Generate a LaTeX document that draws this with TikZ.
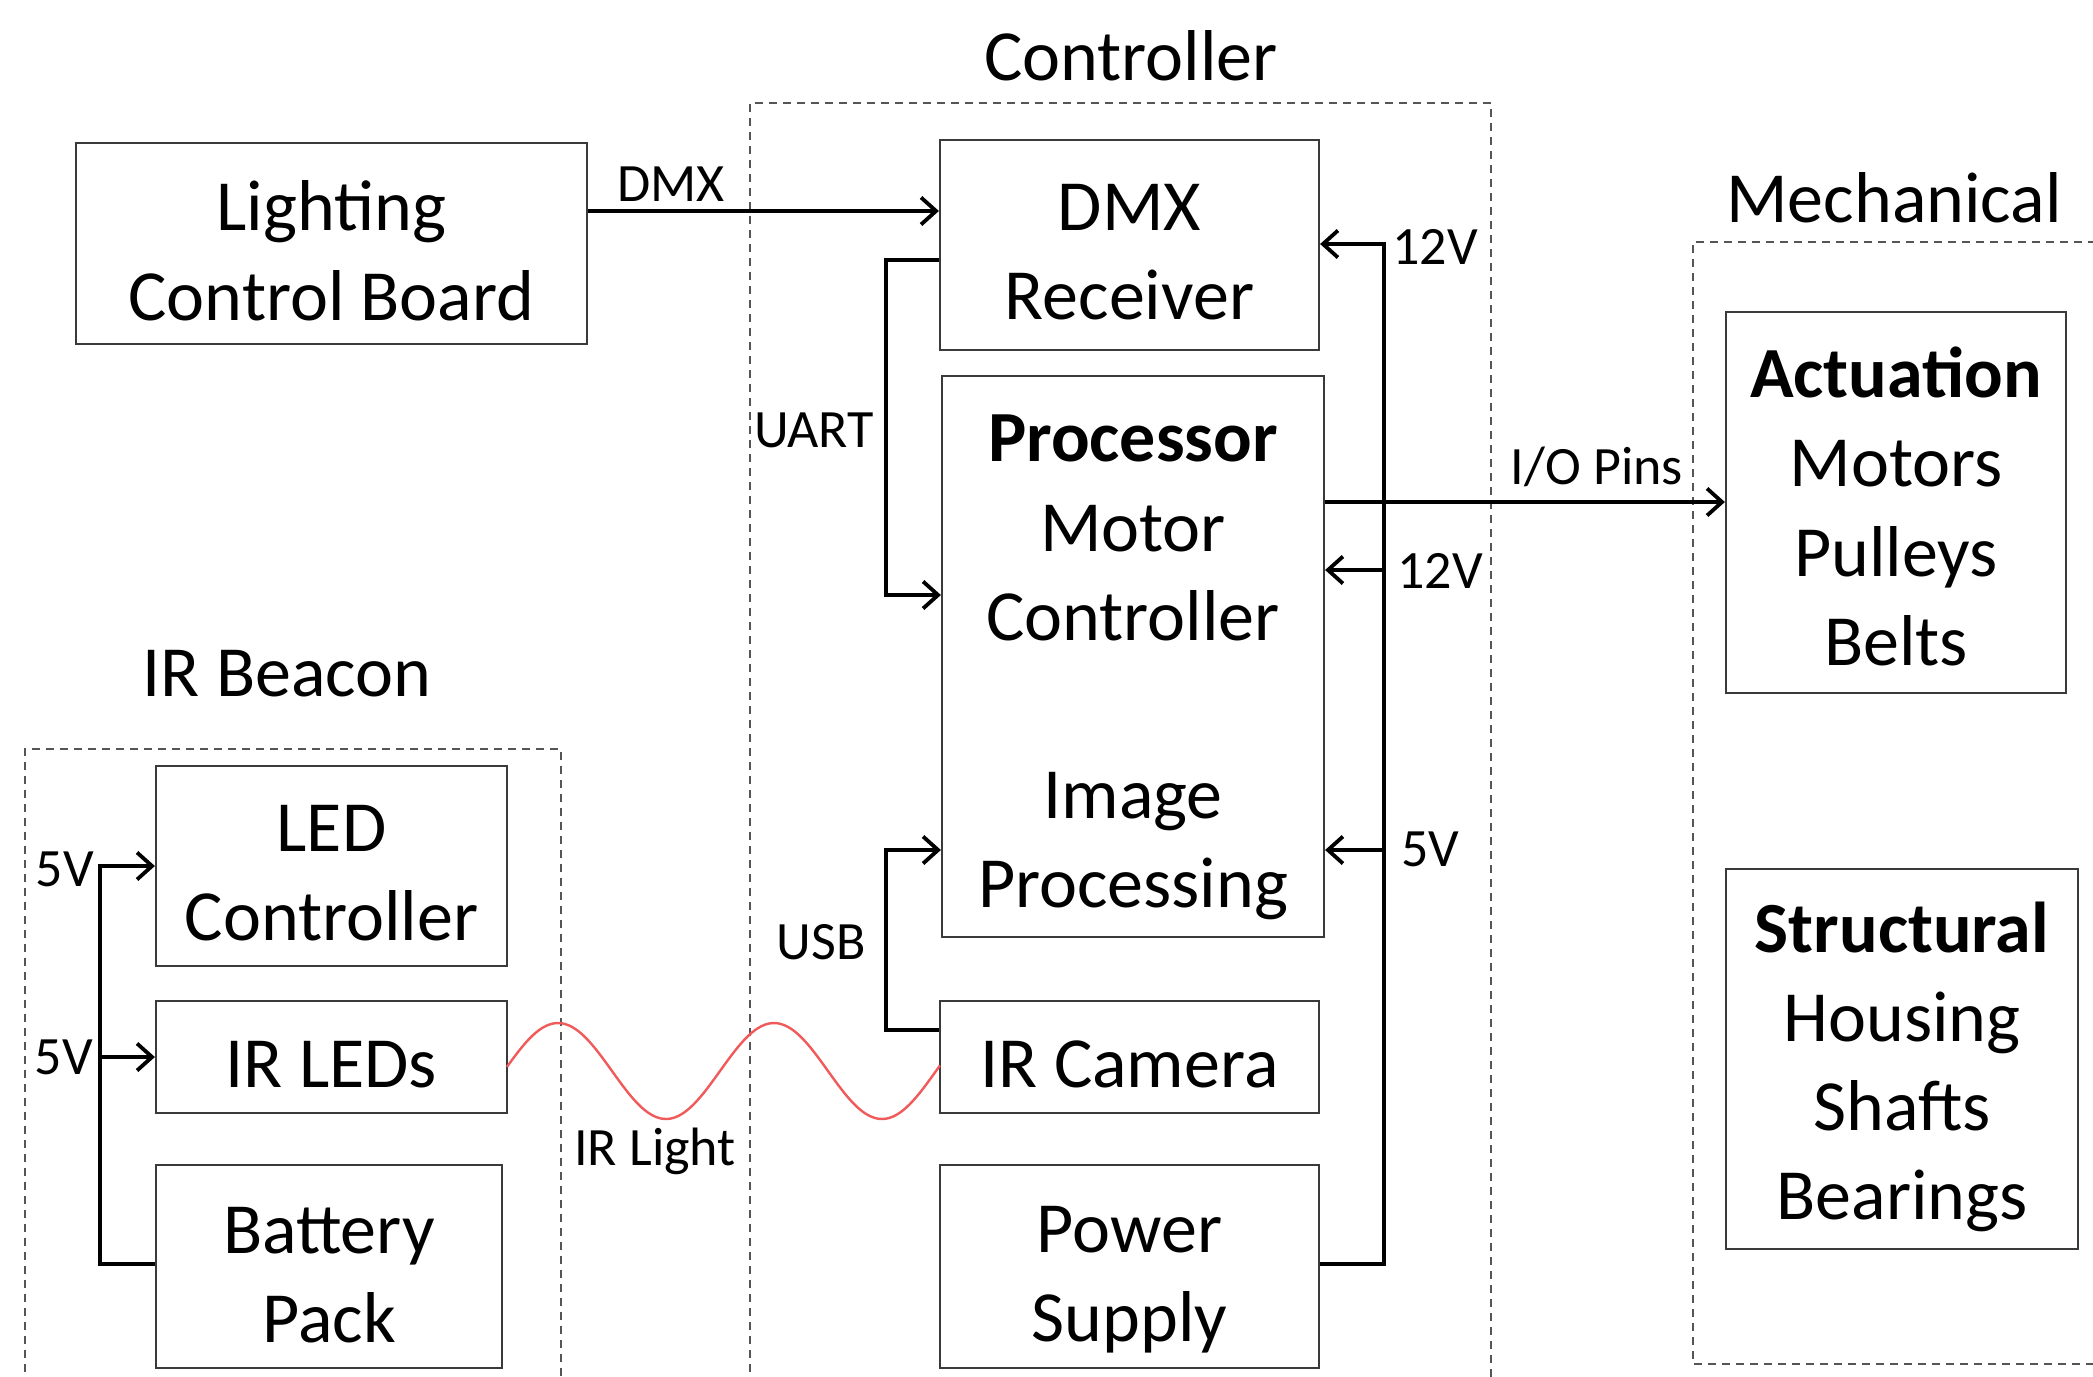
\documentclass[tikz,border=0pt]{standalone}
\usepackage{fontspec}
\setmainfont{Carlito}
\usetikzlibrary{arrows.meta,calc}
\definecolor{boxline}{HTML}{3A3A3A}
\definecolor{grpline}{HTML}{555555}
\definecolor{irred}{HTML}{F05A5A}
\begin{document}
\begin{tikzpicture}[x=0.5pt,y=-0.5pt,
  blk/.style={draw=boxline, line width=1.1pt, inner sep=0pt},
  bt/.style={align=center, inner sep=0pt, font=\fontsize{36}{44.6}\selectfont, yshift=#1},
  bt/.default=-3.6pt,
  lbl/.style={inner sep=0pt, font=\fontsize{27}{32}\selectfont},
  ttl/.style={inner sep=0pt, font=\fontsize{36}{44}\selectfont},
  grp/.style={draw=grpline, line width=1pt, dash pattern=on 4pt off 3pt},
  conn/.style={line width=1.8pt, -{Straight Barb[length=7.5pt,width=13.5pt,line width=1.9pt]}}]
\useasboundingbox (0,0) rectangle (2093,1376);
% group frames
\draw[grp] (750,1400) |- (1491,103) -- (1491,1400);
\draw[grp] (2110,242) -| (1693,1364) -- (2110,1364);
\draw[grp] (25,1400) |- (561,749) -- (561,1400);
% titles
\node[ttl] (tctrl) at (1131,56) {Controller};
\node[ttl] (tmech) at (1894,198) {Mechanical};
\node[ttl] (tbeac) at (287,674) {IR Beacon};
% blocks (sizes in pt = pixels/2)
\node[blk, minimum width=255.5pt, minimum height=100.5pt, label={[bt]center:{Lighting\\Control Board}}] (lcb) at (331.5,243.5) {};
\node[blk, minimum width=189.5pt, minimum height=105pt, label={[bt]center:{DMX\\Receiver}}] (dmxr) at (1129.5,245) {};
\node[blk, minimum width=191pt, minimum height=280.5pt, label={[bt=-5.6pt]center:{\textbf{Processor}\\Motor\\Controller\\[44.6pt]Image\\Processing}}] (proc) at (1133,656.5) {};
\node[blk, minimum width=189.5pt, minimum height=56pt, label={[bt]center:{IR Camera}}] (irc) at (1129.5,1057) {};
\node[blk, minimum width=189.5pt, minimum height=101.5pt, label={[bt=-6.5pt]center:{Power\\Supply}}] (ps) at (1129.5,1266.5) {};
\node[blk, minimum width=170pt, minimum height=190.5pt, label={[bt=-2pt]center:{\textbf{Actuation}\\Motors\\Pulleys\\Belts}}] (act) at (1896,502.5) {};
\node[blk, minimum width=176pt, minimum height=190pt, label={[bt=-4pt]center:{\textbf{Structural}\\Housing\\Shafts\\Bearings}}] (strc) at (1902,1059) {};
\node[blk, minimum width=175.5pt, minimum height=100pt, label={[bt]center:{LED\\Controller}}] (ledc) at (331.5,866) {};
\node[blk, minimum width=175.5pt, minimum height=56pt, label={[bt]center:{IR LEDs}}] (irl) at (331.5,1057) {};
\node[blk, minimum width=173pt, minimum height=101.5pt, label={[bt=-4.5pt]center:{Battery\\Pack}}] (bp) at (329,1266.5) {};
% helper coordinates
\coordinate (ydmx) at (0,211);
\coordinate (yu1) at (0,260);
\coordinate (yu2) at (0,595);
\coordinate (yusb1) at (0,1030);
\coordinate (yusb2) at (0,850);
\coordinate (xl) at (886,0);
\coordinate (xr) at (1384,0);
\coordinate (y12a) at (0,244);
\coordinate (y12b) at (0,570);
\coordinate (y5) at (0,850);
\coordinate (yps) at (0,1264);
\coordinate (yio) at (0,502);
\coordinate (xb) at (100,0);
\coordinate (yb1) at (0,866);
\coordinate (yb2) at (0,1057);
% connectors
\draw[conn] (lcb.east |- ydmx) -- (dmxr.west |- ydmx);
\draw[conn] (dmxr.west |- yu1) -| (xl |- yu2) -- (proc.west |- yu2);
\draw[conn] (irc.west |- yusb1) -| (xl |- yusb2) -- (proc.west |- yusb2);
\draw[conn] (ps.east |- yps) -| (xr |- y12a) -- (dmxr.east |- y12a);
\draw[conn] (xr |- y12b) -- (proc.east |- y12b);
\draw[conn] (xr |- y5) -- (proc.east |- y5);
\draw[conn] (proc.east |- yio) -- (act.west |- yio);
\draw[conn] (bp.west |- yps) -| (xb |- yb1) -- (ledc.west |- yb1);
\draw[conn] (xb |- yb2) -- (irl.west |- yb2);
% IR light wave
\draw[irred, line width=1.2pt] plot[domain=507:940, samples=120, smooth] (\x, {1071 - 48*sin(((\x-504)/216)*360)});
% labels
\node[lbl] at (671,184) {DMX};
\node[lbl] at (814,430) {UART};
\node[lbl] at (821,942) {USB};
\node[lbl] at (1435,247) {12V};
\node[lbl] at (1440,571) {12V};
\node[lbl] at (1430,849) {5V};
\node[lbl] at (1597,467) {I/O Pins};
\node[lbl] at (65,869) {5V};
\node[lbl] at (64,1057) {5V};
\node[lbl] at (655,1151) {IR Light};
\end{tikzpicture}
\end{document}
